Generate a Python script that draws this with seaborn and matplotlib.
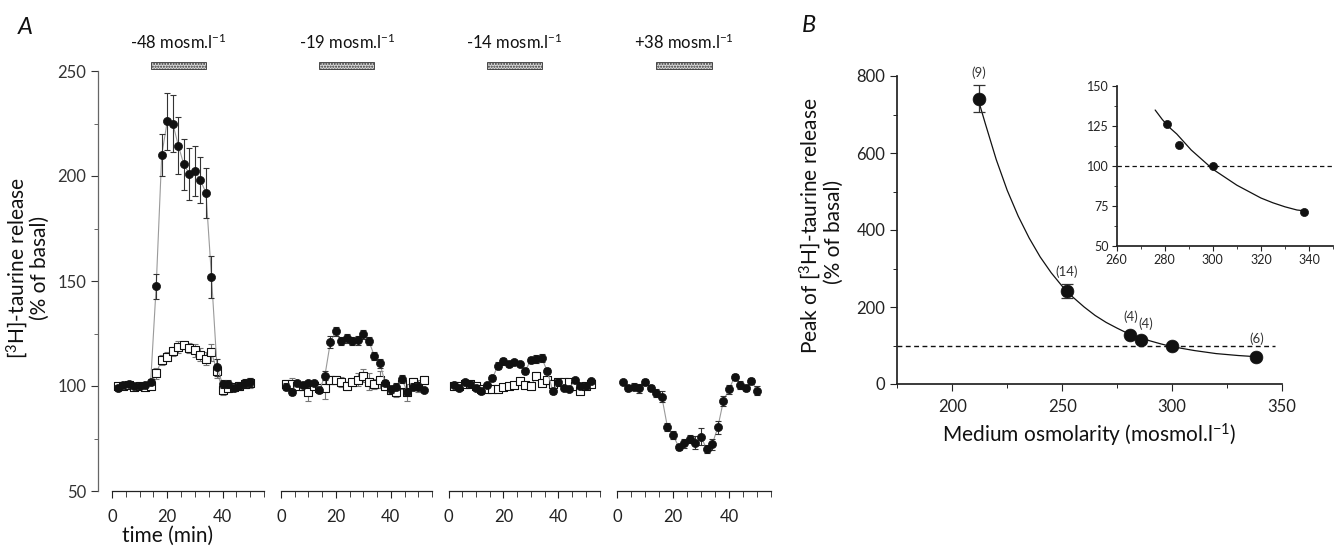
import matplotlib
matplotlib.use("Agg")
import numpy as np
import pandas as pd
import matplotlib.pyplot as plt
import seaborn as sns
from matplotlib.patches import Rectangle
from matplotlib.ticker import MultipleLocator, FixedLocator

# -------------------- data --------------------
# panel A: time courses, mean and SEM, % of basal
time_48 = [2, 4, 6, 8, 10, 12, 14, 16, 18, 20, 22, 24, 26, 28, 30, 32, 34, 36, 38, 40, 42, 44, 46, 48, 50]
hypo48_mean = [99, 100.5, 101, 100, 100, 100.5, 102, 147.5, 210, 226, 225, 214.5, 205.5, 201, 202.5, 198, 192,
               152, 109, 101, 101, 99, 100, 101.5, 102]
hypo48_sem = [1.5, 1, 1, 1, 1, 1, 1.5, 6, 10, 13.5, 13.5, 13.5, 12, 12.5, 12, 11, 12, 10, 4, 2, 2, 1.5, 1.5, 2, 2]
ctrl48_mean = [100, 100, 100.5, 99.5, 100, 99.5, 100, 106, 112.5, 114, 116.5, 118.5, 119.5, 118, 117, 115, 113,
               116, 107, 98, 99, 99.5, 100, 101, 101.5]
ctrl48_sem = [1.5, 1.5, 1.5, 1.5, 1.5, 1.5, 1.5, 2.5, 2.5, 2, 2, 3, 2, 2.5, 3, 3, 3, 4, 3, 2.5, 2, 2, 2, 2, 2.5]

time_19 = [2, 4, 6, 8, 10, 12, 14, 16, 18, 20, 22, 24, 26, 28, 30, 32, 34, 36, 38, 40, 42, 44, 46, 48, 50, 52]
hypo19_mean = [99.7, 97.3, 101.6, 100.5, 101.3, 101.6, 98, 105, 121, 126, 121.4, 122.7, 121.4, 121.7, 124.6,
               121.4, 114.3, 110.8, 101.3, 98.4, 99.7, 103.3, 97.3, 99.7, 99.7, 98]
hypo19_sem = [1.5, 1.5, 1, 1, 1, 1, 1.5, 2, 3, 2, 2, 2, 2, 2, 2, 2, 2, 2, 1.5, 1.5, 1.5, 2, 1.5, 1.5, 1.5, 1]
ctrl19_mean = [101, 101, 100, 100, 97, 100, 99, 99, 103, 103, 102, 100, 102, 103, 105, 102, 101, 103, 100, 98,
               97, 101, 97, 102, 100, 103]
ctrl19_sem = [2, 3, 1.5, 2, 4, 1.5, 2, 5, 2, 2, 2.5, 2, 2, 3, 3, 4, 2.5, 4, 2, 2, 2, 2.5, 4, 2, 3, 2]

time_14 = [2, 4, 6, 8, 10, 12, 14, 16, 18, 20, 22, 24, 26, 28, 30, 32, 34, 36, 38, 40, 42, 44, 46, 48, 50, 52]
hypo14_mean = [100.5, 98.9, 101.8, 100.8, 98.9, 97.4, 100.5, 103.7, 109.7, 111.7, 110.6, 111.4, 110.3, 107.3,
               112.4, 112.9, 113.2, 107, 97.6, 102, 99, 98.7, 102.7, 99.9, 99.9, 102.4]
hypo14_sem = [1, 1, 1, 1, 1, 1, 1, 1.5, 1.5, 1.5, 1.5, 1, 1, 1.5, 1.5, 2, 2, 1.5, 1.5, 1, 1, 1, 1, 1, 1, 1]
ctrl14_mean = [100, 100, 101, 101, 100, 98.5, 98.5, 98.5, 98.5, 99.7, 100.2, 100.5, 102.4, 100.5, 100, 104.8,
               101.6, 103, 101, 102, 102, 102, 100, 97.5, 100, 101]
ctrl14_sem = [1, 1, 1, 1, 1, 1, 1, 1, 1, 1, 1, 1, 1.5, 1, 1, 2, 1.5, 2, 1.5, 1, 1, 1, 1, 1.5, 1, 1]

time_38 = [2, 4, 6, 8, 10, 12, 14, 16, 18, 20, 22, 24, 26, 28, 30, 32, 34, 36, 38, 40, 42, 44, 46, 48, 50]
hyper38_mean = [102, 99.2, 99.7, 98.9, 102, 99.2, 96.8, 94.9, 80.6, 76.7, 71.1, 72.7, 74.8, 73, 75.9, 70, 72.2,
                80.3, 92.9, 98.4, 104.4, 100.5, 99.2, 102.4, 97.8]
hyper38_sem = [1, 1.5, 1.5, 2, 1.5, 1.5, 2, 2.5, 2, 2, 1.5, 2, 2, 3, 4, 2, 2.5, 3, 2.5, 2, 1.5, 2, 1.5, 1.5, 2]

step_labels = ["-48 mosm.l$^{-1}$", "-19 mosm.l$^{-1}$", "-14 mosm.l$^{-1}$", "+38 mosm.l$^{-1}$"]
stim_start = 14
stim_end = 34

# panel B: peak release vs medium osmolarity
osm = [212, 252, 281, 286, 300, 338]
peak = [741, 242, 127, 114, 100, 70]
peak_sem = [35, 18, 5, 5, 3, 3]
n_exp = ["(9)", "(14)", "(4)", "(4)", "", "(6)"]
inset_osm = [281, 286, 300, 338]
inset_peak = [126, 113, 100, 71]
# fitted curve
fit_osm = [212, 215, 220, 225, 230, 235, 240, 245, 250, 255, 260, 265, 270, 275, 280, 285, 290, 295, 300,
           310, 320, 330, 338]
fit_peak = [735, 677, 583, 503, 436, 379, 330, 289, 254, 225, 200, 178, 160, 145, 131, 121, 112, 104, 97,
            87, 79, 74, 71]
inset_fit_osm = [276, 279, 282, 285, 288, 291, 294, 297, 300, 305, 310, 315, 320, 325, 330, 335, 338]
inset_fit_peak = [135, 129, 124, 120, 115, 110, 106, 102, 98, 93, 88, 84, 80, 77, 74.5, 72.5, 72]

# -------------------- style --------------------
sns.set_theme(style="ticks")
plt.rcParams['font.family'] = ['Lato', 'DejaVu Sans']
plt.rcParams['mathtext.fontset'] = 'custom'
plt.rcParams['mathtext.rm'] = 'Lato'
plt.rcParams['mathtext.it'] = 'Lato:italic'
plt.rcParams['axes.edgecolor'] = '#222222'
plt.rcParams['xtick.color'] = '#222222'
plt.rcParams['ytick.color'] = '#222222'
INK = '#111111'
GREY_LINE = '#9a9a9a'

W, H = 1337, 546
fig = plt.figure(figsize=(W / 100, H / 100), dpi=100)


def px_axes(left, top, right, bottom):
    return fig.add_axes([left / W, 1 - bottom / H, (right - left) / W, (bottom - top) / H])


# -------------------- panel A --------------------
panels = [
    (97.6, 264, (-5.2, 55), time_48, hypo48_mean, hypo48_sem, ctrl48_mean, ctrl48_sem),
    (281, 432, (0, 55), time_19, hypo19_mean, hypo19_sem, ctrl19_mean, ctrl19_sem),
    (448.5, 599.5, (0, 55), time_14, hypo14_mean, hypo14_sem, ctrl14_mean, ctrl14_sem),
    (617, 771, (0, 55), time_38, hyper38_mean, hyper38_sem, None, None),
]

for i, (left, right, xl, t, m, s, cm, cs) in enumerate(panels):
    ax = px_axes(left, 71, right, 491)
    ax.set_xlim(*xl)
    ax.set_ylim(50, 250)
    ax.patch.set_alpha(0)
    for sp in ['top', 'right']:
        ax.spines[sp].set_visible(False)
    ax.spines['bottom'].set_bounds(0, 55)
    ax.spines['bottom'].set_linewidth(0.9)
    if i == 0:
        ax.spines['left'].set_color('#666666')
        ax.spines['left'].set_linewidth(0.9)
        ax.yaxis.set_major_locator(MultipleLocator(50))
        ax.yaxis.set_minor_locator(MultipleLocator(25))
        ax.tick_params(axis='y', which='major', length=5, width=0.8, labelsize=12, colors='#333333', pad=3)
        ax.tick_params(axis='y', which='minor', length=3, width=0.7, colors='#666666')
    else:
        ax.spines['left'].set_visible(False)
        ax.set_yticks([])
    ax.xaxis.set_major_locator(FixedLocator([0, 20, 40]))
    ax.xaxis.set_minor_locator(FixedLocator([5, 10, 15, 25, 30, 35, 45, 50, 55]))
    ax.tick_params(axis='x', which='major', length=5, width=0.8, labelsize=12, pad=8)
    ax.tick_params(axis='x', which='minor', length=4, width=0.6)

    if cm is not None:
        ctrl = pd.DataFrame({"time": t, "release": cm})
        sns.lineplot(data=ctrl, x="time", y="release", ax=ax, color=GREY_LINE, lw=0.8,
                     estimator=None, zorder=2)
        ax.errorbar(t, cm, yerr=cs, fmt='none', ecolor='#777777', elinewidth=0.8, capsize=2.5,
                    capthick=0.8, zorder=3)
        sns.scatterplot(data=ctrl, x="time", y="release", ax=ax, marker='s', s=30, color='white',
                        edgecolor=INK, linewidth=0.8, zorder=4)
    df = pd.DataFrame({"time": t, "release": m})
    sns.lineplot(data=df, x="time", y="release", ax=ax, color=GREY_LINE, lw=0.8, estimator=None, zorder=5)
    ax.errorbar(t, m, yerr=s, fmt='none', ecolor='#333333', elinewidth=0.8, capsize=2.5, capthick=0.8,
                zorder=6)
    sns.scatterplot(data=df, x="time", y="release", ax=ax, marker='o', s=34, color=INK, edgecolor=INK,
                    linewidth=0.5, zorder=7)
    ax.set_ylabel("")
    if i == 0:
        ax.set_xlabel("time (min)", fontsize=15, color=INK)
        ax.xaxis.set_label_coords((20 - xl[0]) / (xl[1] - xl[0]), -0.082)
    else:
        ax.set_xlabel("")

    # stimulus bar and label
    ax.add_patch(Rectangle((stim_start, 251), stim_end - stim_start, 3.3, facecolor='#d9d9d9',
                           edgecolor='#333333', hatch='......', linewidth=0.6, clip_on=False))
    ax.text((stim_start + stim_end) / 2, 263.5, step_labels[i], ha='center', va='center', fontsize=12,
            color=INK, clip_on=False)

fig.text(17 / W, 1 - 268 / H, "[$^3$H]-taurine release", rotation=90, ha='center', va='center',
         fontsize=15, color=INK)
fig.text(40 / W, 1 - 268 / H, "(% of basal)", rotation=90, ha='center', va='center',
         fontsize=15, color=INK)
fig.text(18 / W, 1 - 28 / H, "A", fontsize=17, style='italic', ha='left', va='center', color=INK)
fig.text(802 / W, 1 - 25 / H, "B", fontsize=17, style='italic', ha='left', va='center', color=INK)

# -------------------- panel B --------------------
axb = px_axes(897.3, 76, 1282, 384)
axb.set_xlim(175, 350)
axb.set_ylim(0, 800)
axb.patch.set_alpha(0)
for sp in ['top', 'right']:
    axb.spines[sp].set_visible(False)
axb.axhline(100, xmin=0, xmax=(347 - 175) / 175, color=INK, lw=1.0, ls=(0, (3.5, 2.5)), zorder=1)
fit_df = pd.DataFrame({"osm": fit_osm, "peak": fit_peak})
sns.lineplot(data=fit_df, x="osm", y="peak", ax=axb, color=INK, lw=0.9, estimator=None, sort=False, zorder=2)
axb.errorbar(osm[:2], peak[:2], yerr=peak_sem[:2], fmt='none', ecolor='#333333', elinewidth=0.9,
             capsize=4.5, capthick=0.9, zorder=3)
pts = pd.DataFrame({"osm": osm, "peak": peak})
sns.scatterplot(data=pts, x="osm", y="peak", ax=axb, s=85, color=INK, edgecolor=INK, linewidth=0.5, zorder=4)
offsets = [19, 13.5, 13.5, 11.5, 0, 13]
dx = [0, 0, 0, 3, 0, 1]
for xo, yo, lab, oy, ox in zip(osm, peak, n_exp, offsets, dx):
    if lab:
        axb.annotate(lab, (xo, yo), xytext=(ox, oy), textcoords='offset points', ha='center',
                     va='center', fontsize=9.5, color='#333333')
axb.xaxis.set_major_locator(MultipleLocator(50))
axb.xaxis.set_minor_locator(MultipleLocator(25))
axb.yaxis.set_major_locator(MultipleLocator(200))
axb.yaxis.set_minor_locator(MultipleLocator(100))
axb.tick_params(which='major', length=5, width=0.8, labelsize=12)
axb.tick_params(which='minor', length=3, width=0.7)
axb.tick_params(axis='x', pad=6)
axb.set_xlabel("Medium osmolarity (mosmol.l$^{-1}$)", fontsize=15, color=INK, labelpad=5)
axb.set_ylabel("")
fig.text(810 / W, 1 - 226 / H, "Peak of [$^3$H]-taurine release", rotation=90, ha='center', va='center',
         fontsize=15, color=INK)
fig.text(834 / W, 1 - 232 / H, "(% of basal)", rotation=90, ha='center', va='center',
         fontsize=15, color=INK)

# inset
axi = px_axes(1116.7, 86, 1333, 246)
axi.set_xlim(260, 350)
axi.set_ylim(50, 150)
axi.patch.set_alpha(0)
for sp in ['top', 'right']:
    axi.spines[sp].set_visible(False)
axi.axhline(100, color=INK, lw=0.9, ls=(0, (3.5, 2.5)), zorder=1)
ifit = pd.DataFrame({"osm": inset_fit_osm, "peak": inset_fit_peak})
sns.lineplot(data=ifit, x="osm", y="peak", ax=axi, color=INK, lw=0.9, estimator=None, sort=False, zorder=2)
ipts = pd.DataFrame({"osm": inset_osm, "peak": inset_peak})
sns.scatterplot(data=ipts, x="osm", y="peak", ax=axi, s=34, color=INK, edgecolor=INK, linewidth=0.5, zorder=3)
axi.xaxis.set_major_locator(MultipleLocator(20))
axi.xaxis.set_minor_locator(MultipleLocator(10))
axi.yaxis.set_major_locator(MultipleLocator(25))
axi.yaxis.set_minor_locator(MultipleLocator(12.5))
axi.tick_params(which='major', length=3.5, width=0.8, labelsize=9, pad=2)
axi.tick_params(which='minor', length=2, width=0.6)
axi.set_xlabel("")
axi.set_ylabel("")

fig.savefig("out.png", dpi=100)
